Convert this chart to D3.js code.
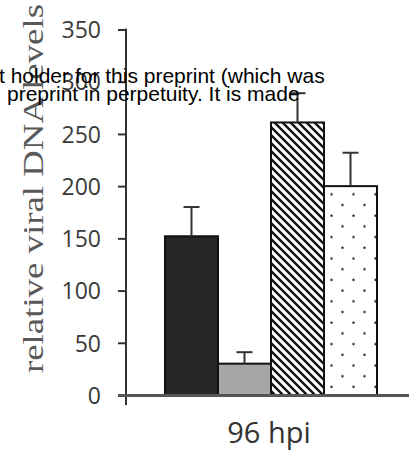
<!DOCTYPE html>
<html>
<head>
<meta charset="utf-8">
<script src="https://cdn.jsdelivr.net/npm/d3@7"></script>
<style>
html,body{margin:0;padding:0;background:#fff;}
svg{display:block;}
</style>
</head>
<body>
<svg id="chart" width="409" height="456"></svg>
<script>
// ---- data ----
const groupLabel = "96 hpi";
const series = ["s1", "s2", "s3", "s4"];
const values = [152, 30, 261, 200];
const errors = [28, 11, 28, 32];
const fills = ["#262626", "#a6a6a6", "url(#hatch)", "url(#dots)"];
const yTicks = [0, 50, 100, 150, 200, 250, 300, 350];
const yLabel = "relative viral DNA levels";
const overlayLines = ["t holder for this preprint (which was", "preprint in perpetuity. It is made"];

const svg = d3.select("#chart");
const defs = svg.append("defs");

const hatch = defs.append("pattern").attr("id", "hatch")
  .attr("patternUnits", "userSpaceOnUse").attr("width", 8).attr("height", 8);
hatch.append("rect").attr("width", 8).attr("height", 8).attr("fill", "#fff");
hatch.append("path").attr("d", "M-2,-2 L10,10 M-2,6 L2,10 M6,-2 L10,2")
  .attr("stroke", "#111").attr("stroke-width", 2.4);

const dots = defs.append("pattern").attr("id", "dots")
  .attr("patternUnits", "userSpaceOnUse").attr("width", 22).attr("height", 21.4);
dots.append("rect").attr("width", 22).attr("height", 21.4).attr("fill", "#fff");
dots.append("circle").attr("cx", 1.5).attr("cy", 1.8).attr("r", 1.2).attr("fill", "#222");
dots.append("circle").attr("cx", 12.5).attr("cy", 12.5).attr("r", 1.2).attr("fill", "#222");

const y = d3.scaleLinear().domain([0, 350]).range([395, 29.5]);
const x = d3.scaleBand().domain(series).range([165, 377]).padding(0);
const axisX = 126;

// y axis
const yAxis = d3.axisLeft(y).tickValues(yTicks).tickSizeInner(8).tickSizeOuter(0).tickPadding(17);
const gy = svg.append("g").attr("transform", `translate(${axisX},0)`).call(yAxis);
gy.select(".domain").remove();
gy.selectAll(".tick line").attr("stroke", "#333").attr("stroke-width", 2);
gy.selectAll(".tick text").attr("font-family", "'Open Sans', sans-serif")
  .attr("font-size", 23).attr("fill", "#3a3a3a").attr("dy", "0.36em");
svg.append("line").attr("x1", axisX).attr("x2", axisX)
  .attr("y1", y(350) - 1).attr("y2", y(0) + 10)
  .attr("stroke", "#333").attr("stroke-width", 2);

// bars
svg.selectAll("rect.bar").data(series).enter().append("rect")
  .attr("class", "bar")
  .attr("x", d => x(d))
  .attr("width", x.bandwidth())
  .attr("y", (d, i) => y(values[i]))
  .attr("height", (d, i) => y(0) - y(values[i]))
  .attr("fill", (d, i) => fills[i])
  .attr("stroke", "#111").attr("stroke-width", 2);

// error bars
const eb = svg.selectAll("g.err").data(series).enter().append("g").attr("class", "err");
eb.append("line")
  .attr("x1", d => x(d) + x.bandwidth() / 2).attr("x2", d => x(d) + x.bandwidth() / 2)
  .attr("y1", (d, i) => y(values[i])).attr("y2", (d, i) => y(values[i] + errors[i]))
  .attr("stroke", "#333").attr("stroke-width", 2);
eb.append("line")
  .attr("x1", d => x(d) + x.bandwidth() / 2 - 8).attr("x2", d => x(d) + x.bandwidth() / 2 + 8)
  .attr("y1", (d, i) => y(values[i] + errors[i])).attr("y2", (d, i) => y(values[i] + errors[i]))
  .attr("stroke", "#333").attr("stroke-width", 2);

// x axis line
svg.append("line").attr("x1", 118).attr("x2", 409)
  .attr("y1", y(0) + 0.5).attr("y2", y(0) + 0.5)
  .attr("stroke", "#555").attr("stroke-width", 3);

// x label
svg.append("text").attr("x", 269).attr("y", 443)
  .attr("text-anchor", "middle")
  .attr("font-family", "'Open Sans', sans-serif").attr("font-size", 29)
  .attr("fill", "#333").text(groupLabel);

// y label
svg.append("text")
  .attr("transform", "translate(43,373) rotate(-90)")
  .attr("font-family", "'Liberation Serif', serif").attr("font-size", 29)
  .attr("textLength", 369).attr("lengthAdjust", "spacingAndGlyphs")
  .attr("fill", "#595959").text(yLabel);

// overlay text
svg.selectAll("text.ov").data(overlayLines).enter().append("text")
  .attr("class", "ov")
  .attr("x", (d, i) => i === 0 ? -1 : 7)
  .attr("y", (d, i) => 83 + i * 18)
  .attr("font-family", "'Liberation Sans', Arial, sans-serif").attr("font-size", 21)
  .attr("fill", "#000").text(d => d);
</script>
</body>
</html>
